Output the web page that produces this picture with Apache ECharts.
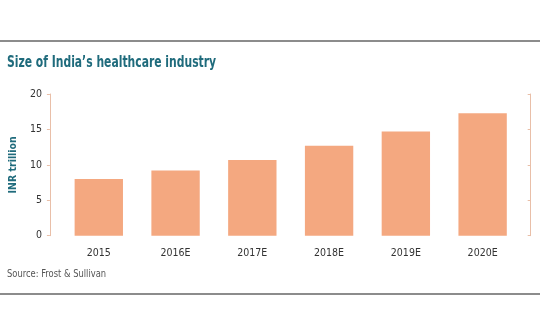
<!DOCTYPE html>
<html>
<head>
<meta charset="utf-8">
<script src="https://cdn.jsdelivr.net/npm/echarts@6/dist/echarts.min.js"></script>
<style>
  html, body { margin: 0; padding: 0; background: #fff; }
  #chart { width: 540px; height: 334px; }
</style>
</head>
<body>
<div id="chart"></div>
<script>
// Healthcare industry size by year (INR trillion)
const years = ['2015', '2016E', '2017E', '2018E', '2019E', '2020E'];
const sizeInrTrillion = [8.0, 9.2, 10.7, 12.7, 14.7, 17.3];
const yTicks = { min: 0, max: 20, interval: 5 };

const teal = '#1f6b7c';
const barColor = '#f4a880';
const axisColor = '#e9bfa8';
const condensed = '"DejaVu Sans Condensed", "DejaVu Sans", sans-serif';

const chart = echarts.init(document.getElementById('chart'), null, { renderer: 'canvas' });

chart.setOption({
  animation: false,
  backgroundColor: '#fff',
  graphic: [
    // horizontal rules framing the panel
    { type: 'line', shape: { x1: 0, y1: 41, x2: 540, y2: 41 }, style: { stroke: '#8c8c8c', lineWidth: 2 } },
    { type: 'line', shape: { x1: 0, y1: 294, x2: 540, y2: 294 }, style: { stroke: '#8c8c8c', lineWidth: 2 } },
    // title, horizontally tightened to a narrow face
    {
      type: 'text', x: 7, y: 63, scaleX: 0.8,
      style: {
        text: 'Size of India\u2019s healthcare industry',
        fill: teal, font: 'bold 15px ' + condensed,
        textVerticalAlign: 'middle', verticalAlign: 'middle'
      }
    },
    {
      type: 'text', x: 7, y: 274, scaleX: 0.93,
      style: {
        text: 'Source: Frost & Sullivan',
        fill: '#555', font: '10px ' + condensed,
        textVerticalAlign: 'middle', verticalAlign: 'middle'
      }
    }
  ],
  grid: { left: 57.5, right: 19, top: 94, bottom: 98.3 },
  xAxis: {
    type: 'category',
    data: years,
    axisLine: { show: false },
    axisTick: { show: false },
    axisLabel: { color: '#333', fontFamily: condensed, fontSize: 10.5, margin: 12 }
  },
  yAxis: [
    {
      type: 'value',
      min: yTicks.min, max: yTicks.max, interval: yTicks.interval,
      offset: 10.5,
      name: 'INR trillion',
      nameLocation: 'middle',
      nameGap: 30,
      nameTextStyle: { color: teal, fontFamily: condensed, fontSize: 10.5, fontWeight: 'bold' },
      axisLine: { show: true, lineStyle: { color: axisColor, width: 1 } },
      axisTick: { show: true, length: 3, lineStyle: { color: axisColor } },
      axisLabel: { color: '#333', fontFamily: condensed, fontSize: 10.5, margin: 8 },
      splitLine: { show: false }
    },
    {
      type: 'value',
      position: 'right',
      min: yTicks.min, max: yTicks.max, interval: yTicks.interval,
      offset: 9.7,
      axisLine: { show: true, lineStyle: { color: axisColor, width: 1 } },
      axisTick: { show: true, inside: true, length: 3, lineStyle: { color: axisColor } },
      axisLabel: { show: false },
      splitLine: { show: false }
    }
  ],
  series: [{
    type: 'bar',
    data: sizeInrTrillion,
    barWidth: '63%',
    itemStyle: { color: barColor }
  }]
});
</script>
</body>
</html>
